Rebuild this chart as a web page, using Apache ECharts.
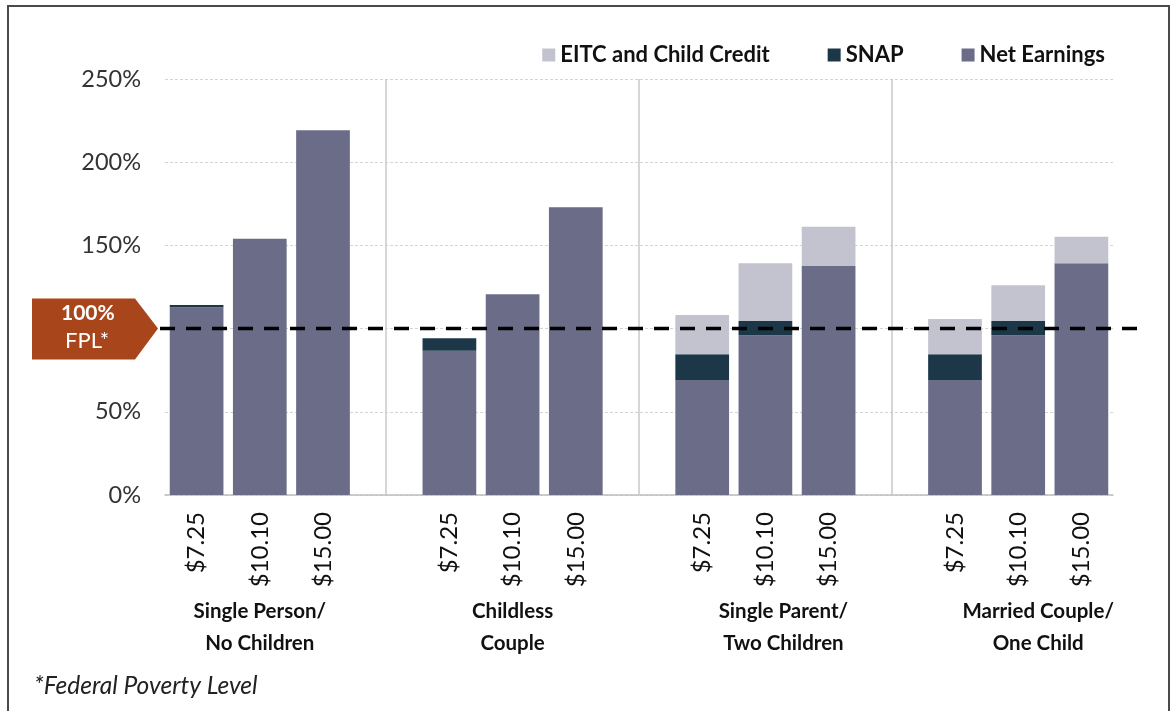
<!DOCTYPE html>
<html>
<head>
<meta charset="utf-8">
<script src="https://cdn.jsdelivr.net/npm/echarts@6/dist/echarts.min.js"></script>
<style>
  html, body { margin: 0; padding: 0; background: #fff; }
  #frame { position: absolute; left: 7px; top: 5px; width: 1159px; height: 720px;
           border-left: 2px solid #4a4a4a; border-top: 2px solid #4a4a4a; border-right: 2px solid #4a4a4a; }
  #chart { position: absolute; left: 0; top: 0; width: 1170px; height: 711px; }
</style>
</head>
<body>
<div id="frame"></div>
<div id="chart"></div>
<script>
// ---- data ----
const wageLabels = ['$7.25', '$10.10', '$15.00', '', '$7.25', '$10.10', '$15.00', '', '$7.25', '$10.10', '$15.00', '', '$7.25', '$10.10', '$15.00'];
const groupLabels = ['', 'Single Person/\nNo Children', '', '', '', 'Childless\nCouple', '', '', '', 'Single Parent/\nTwo Children', '', '', '', 'Married Couple/\nOne Child', ''];
const netEarnings = [112.8, 154, 219.2, null, 86.7, 120.6, 172.9, null, 69.1, 96, 137.6, null, 69.1, 96, 139.2];
const snap        = [1.4, 0, 0, null, 7.5, 0, 0, null, 15.5, 8.6, 0, null, 15.5, 8.6, 0];
const eitc        = [0, 0, 0, null, 0, 0, 0, null, 23.6, 34.6, 23.6, null, 21.2, 21.4, 16];
const yTickLabels = { 0: '0%', 50: '50%', 150: '150%', 200: '200%', 250: '250%' };
const fplLevel = 100;
const separatorSlots = ['3', '7', '11'];
const seriesNames = ['Net Earnings', 'SNAP', 'EITC and Child Credit'];
const legendOrder = ['EITC and Child Credit', 'SNAP', 'Net Earnings'];

const FONT = 'Lato, "Open Sans", sans-serif';
const colors = { 'Net Earnings': '#6b6d88', 'SNAP': '#1b3748', 'EITC and Child Credit': '#c3c3d0' };

const chart = echarts.init(document.getElementById('chart'), null, { renderer: 'canvas' });

const catData = wageLabels.map((v, i) => ({ value: String(i) }));
const groupPadL = [0, 0, 0, 0, 0, 0, 0, 0, 0, 36, 0, 0, 0, 40, 0];
const groupPadR = [0, 0, 0, 0, 0, 0, 0, 0, 0, 0, 0, 0, 0, 0, 0];

function mkSeries(name, data) {
  return {
    name: name, type: 'bar', stack: 'total', data: data, barWidth: '85%',
    itemStyle: { color: colors[name] },
    emphasis: { disabled: true }
  };
}

const series = [
  mkSeries(seriesNames[0], netEarnings),
  mkSeries(seriesNames[1], snap),
  mkSeries(seriesNames[2], eitc)
];
series[0].markLine = {
  silent: true, symbol: 'none', label: { show: false },
  lineStyle: { color: '#c8c8c8', type: 'solid', width: 1.5 },
  data: separatorSlots.map(s => ({ xAxis: s }))
};

chart.setOption({
  animation: false,
  textStyle: { fontFamily: FONT },
  grid: { left: 165, right: 57, top: 79, bottom: 216, containLabel: false },
  legend: {
    data: legendOrder, right: 60, top: 39, itemWidth: 13, itemHeight: 13, itemGap: 58,
    icon: 'rect',
    textStyle: { fontFamily: FONT, fontWeight: 'bold', fontSize: 22, color: '#111' }
  },
  xAxis: [{
    type: 'category', data: catData,
    axisLine: { lineStyle: { color: '#bfbfbf', width: 1.5 } },
    axisTick: { show: false },
    axisLabel: {
      rotate: 90, fontSize: 24, color: '#111', margin: 17, fontFamily: FONT, interval: 0,
      formatter: (v) => wageLabels[+v]
    }
  }, {
    type: 'category', position: 'bottom',
    data: groupLabels.map((g, i) => ({ value: g, textStyle: { padding: [0, groupPadR[i], 0, groupPadL[i]] } })),
    axisLine: { show: false }, axisTick: { show: false },
    axisLabel: {
      interval: 0, margin: 100, fontSize: 20.5, fontWeight: 'bold', color: '#111',
      lineHeight: 32, fontFamily: FONT, align: 'center'
    }
  }],
  yAxis: {
    type: 'value', min: 0, max: 250, interval: 50,
    axisLine: { show: false }, axisTick: { show: false },
    axisLabel: { formatter: (v) => yTickLabels[v] || '', fontSize: 23.5, color: '#333', margin: 24, fontFamily: FONT },
    splitLine: { lineStyle: { color: '#d4d4d4', type: [3, 2], width: 1 } }
  },
  series: series
});

// FPL annotation positioned via the axis scale
const y100 = chart.convertToPixel({ yAxisIndex: 0 }, fplLevel);
chart.setOption({
  graphic: [
    {
      type: 'polygon', silent: true, z: 90,
      shape: { points: [[32, y100 - 30], [135, y100 - 30], [158, y100], [135, y100 + 31], [32, y100 + 31]] },
      style: { fill: '#a8451b' }
    },
    {
      type: 'text', silent: true, z: 91, left: 61, top: y100 - 26,
      style: { text: '100%', fill: '#fff', font: 'bold 21px ' + FONT }
    },
    {
      type: 'text', silent: true, z: 91, left: 65, top: y100 + 1,
      style: { text: 'FPL*', fill: '#fff', font: '22px ' + FONT }
    },
    {
      type: 'line', silent: true, z: 100,
      shape: { x1: 160, y1: y100, x2: 1142, y2: y100 },
      style: { stroke: '#000', lineWidth: 3.5, lineDash: [15, 11] }
    },
    {
      type: 'text', silent: true, left: 34, top: 674,
      style: { text: '*Federal Poverty Level', fill: '#222', font: 'italic 24.5px ' + FONT }
    }
  ]
});
</script>
</body>
</html>
